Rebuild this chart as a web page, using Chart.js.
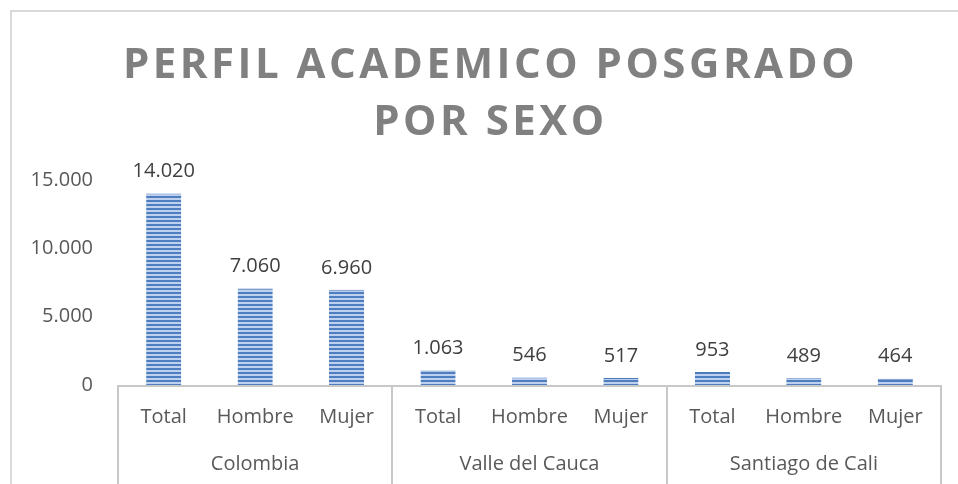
<!DOCTYPE html>
<html>
<head>
<meta charset="utf-8">
<script src="https://cdn.jsdelivr.net/npm/chart.js@4/dist/chart.umd.min.js"></script>
<style>
  html, body { margin: 0; padding: 0; background: #ffffff; }
  #wrap { width: 958px; height: 484px; position: relative; }
</style>
</head>
<body>
<div id="wrap"><canvas id="c" width="958" height="484"></canvas></div>
<script>
// ---- data ----
const titleLines = ['PERFIL ACADEMICO POSGRADO', 'POR SEXO'];
const groups = ['Colombia', 'Valle del Cauca', 'Santiago de Cali'];
const subCategories = ['Total', 'Hombre', 'Mujer', 'Total', 'Hombre', 'Mujer', 'Total', 'Hombre', 'Mujer'];
const values = [14020, 7060, 6960, 1063, 546, 517, 953, 489, 464];
const yTicks = [0, 5000, 10000, 15000];

const fmt = v => Math.round(v).toString().replace(/\B(?=(\d{3})+(?!\d))/g, '.');
const FONT = '"Open Sans", "Liberation Sans", sans-serif';

// striped fill
function makePattern() {
  const p = document.createElement('canvas');
  p.width = 4; p.height = 4;
  const g = p.getContext('2d');
  g.fillStyle = '#bdd0ee'; g.fillRect(0, 0, 4, 4);
  g.fillStyle = '#4f7ec0'; g.fillRect(0, 0, 4, 2);
  return document.getElementById('c').getContext('2d').createPattern(p, 'repeat');
}
const stripe = makePattern();

const GRID = '#c8c8c8';

const framePlugin = {
  id: 'frame',
  afterInit(chart) {
    const t = chart.titleBlock;
    if (t) {
      const orig = t.draw.bind(t);
      t.draw = function (area) {
        const ctx = chart.ctx;
        ctx.save();
        ctx.letterSpacing = '3.5px';
        ctx.translate(20, 0);
        orig(area);
        ctx.restore();
      };
    }
  },
  beforeDraw(chart) {
    const ctx = chart.ctx;
    ctx.save();
    ctx.strokeStyle = '#d9d9d9';
    ctx.lineWidth = 2;
    ctx.beginPath();
    ctx.moveTo(11, 484);
    ctx.lineTo(11, 11);
    ctx.lineTo(958, 11);
    ctx.stroke();
    ctx.restore();
  },
  afterDraw(chart) {
    const ctx = chart.ctx;
    const x = chart.scales.x;
    const x2 = chart.scales.x2;
    const per = x.width / subCategories.length;
    ctx.save();
    ctx.strokeStyle = GRID;
    ctx.lineWidth = 2;
    ctx.beginPath();
    ctx.moveTo(x.left - 1, x.top + 1);
    ctx.lineTo(x.right + 1, x.top + 1);
    ctx.stroke();
    for (let i = 0; i <= groups.length; i++) {
      const px = Math.round(x.left + i * 3 * per);
      ctx.beginPath();
      ctx.moveTo(px, x.top + 1);
      ctx.lineTo(px, x2.bottom);
      ctx.stroke();
    }
    ctx.restore();
  },
  afterDatasetsDraw(chart) {
    const ctx = chart.ctx;
    const meta = chart.getDatasetMeta(0);
    ctx.save();
    ctx.font = '20px ' + FONT;
    ctx.fillStyle = '#404040';
    ctx.textAlign = 'center';
    ctx.textBaseline = 'middle';
    meta.data.forEach((bar, i) => {
      ctx.fillText(fmt(values[i]), bar.x, bar.y - 22);
    });
    ctx.restore();
  }
};

new Chart(document.getElementById('c'), {
  type: 'bar',
  data: {
    labels: subCategories,
    datasets: [{
      data: values,
      backgroundColor: stripe,
      borderColor: '#4a78b8',
      borderWidth: { top: 1, left: 0, right: 0, bottom: 0 },
      categoryPercentage: 1,
      barPercentage: 0.385,
      xAxisID: 'x',
      yAxisID: 'y'
    }]
  },
  options: {
    responsive: false,
    animation: false,
    devicePixelRatio: 1,
    layout: { padding: { left: 0, right: 17, top: 0, bottom: 0 } },
    plugins: {
      legend: { display: false },
      tooltip: { enabled: false },
      title: {
        display: true,
        text: titleLines,
        color: '#808080',
        font: { family: FONT, size: 42, weight: 'bold', lineHeight: 1.357 },
        padding: { top: 38, bottom: 28 }
      }
    },
    scales: {
      x: {
        type: 'category',
        position: 'bottom',
        grid: { display: false, drawTicks: false },
        border: { display: false },
        ticks: {
          color: '#595959',
          font: { family: FONT, size: 20 },
          padding: 20,
          maxRotation: 0,
          autoSkip: false
        },
        afterFit(s) { s.height = 44; }
      },
      x2: {
        type: 'category',
        position: 'bottom',
        labels: groups,
        offset: true,
        grid: { display: false, drawTicks: false },
        border: { display: false },
        ticks: {
          color: '#595959',
          font: { family: FONT, size: 20 },
          padding: 23,
          maxRotation: 0,
          autoSkip: false
        },
        afterFit(s) { s.height = 55; }
      },
      y: {
        min: 0,
        max: 15000,
        afterBuildTicks(s) { s.ticks = yTicks.map(v => ({ value: v })); },
        grid: { display: false, drawTicks: false },
        border: { display: false },
        ticks: {
          color: '#595959',
          font: { family: FONT, size: 20 },
          padding: 25,
          callback: v => fmt(v)
        },
        afterFit(s) { s.width = 118; }
      }
    }
  },
  plugins: [framePlugin]
});
</script>
</body>
</html>
